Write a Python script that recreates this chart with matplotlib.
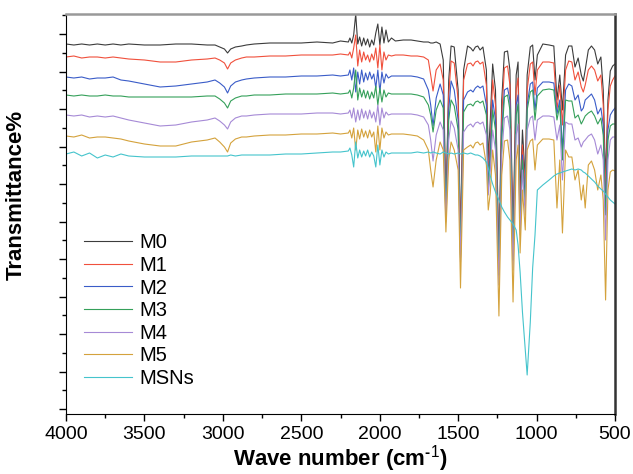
# FTIR spectra of M0-M5 and MSNs

import numpy as np
import matplotlib.pyplot as plt
from matplotlib.ticker import MultipleLocator

plt.rcParams['font.family'] = ['Liberation Sans', 'DejaVu Sans']
plt.rcParams['mathtext.fontset'] = 'custom'
plt.rcParams['mathtext.rm'] = 'Liberation Sans'
plt.rcParams['mathtext.bf'] = 'Liberation Sans:bold'

# wave numbers (cm-1) where the spectra were read
wn_high = [4000, 3950, 3900, 3850, 3800, 3750, 3700, 3650, 3600, 3500,
           3400, 3300, 3200, 3100, 3050, 3020, 2990, 2970, 2950, 2920,
           2880, 2850, 2800, 2700, 2600, 2500, 2400, 2300, 2250, 2200]
wn_noise = [2190, 2178, 2166, 2153, 2140, 2128, 2115, 2102, 2090, 2077, 2064,
            2051, 2038, 2025, 2012, 1999, 1986, 1973, 1960, 1945, 1925, 1900]
wn_mid = [1850, 1800, 1760, 1720, 1690]
wn_finger = [1675, 1660, 1640, 1615, 1595, 1578, 1560, 1545, 1525, 1500,
             1485, 1465, 1440, 1420, 1405, 1390, 1375, 1360, 1342, 1320,
             1308, 1295, 1280, 1262, 1240, 1222, 1205, 1185, 1170, 1150,
             1130, 1118, 1105, 1090, 1072, 1060, 1040, 1025, 1010, 995,
             960, 920, 890, 870, 852, 835, 815, 795, 775, 755,
             735, 715, 702, 690, 670, 650, 630, 610, 590, 575,
             560, 545, 530, 515, 500]
wavenumber = wn_high + wn_noise + wn_mid + wn_finger

# transmittance (arbitrary units, curves stacked)
t_m0 = [370, 369, 370, 369, 370, 369, 370, 369, 370, 369, 369, 370, 370, 369, 369,
        367, 365, 361, 365, 367, 368, 369, 370, 371, 371, 371, 372, 371, 373, 372,
        376, 371, 379, 400, 370, 377, 368, 376, 369, 375, 367, 374, 369, 381, 390,
        369, 387, 371, 384, 372, 376, 373,
        374, 374, 373, 372, 372,
        371, 371, 372, 370, 354, 209, 334, 368, 367, 324, 174, 344, 368, 366, 363,
        367, 368, 364, 367, 344, 254, 294, 350, 324, 159, 314, 362, 363, 344, 179,
        339, 352, 214, 284, 234, 339, 367, 369, 334, 359, 370, 369, 368, 314, 339,
        304, 359, 368, 368, 347, 356, 339, 333, 344, 364, 368, 364, 350, 357, 324,
        234, 314, 343, 348, 350]
t_m1 = [357, 358, 356, 357, 357, 356, 357, 356, 355, 354, 352, 352, 354, 355, 356,
        354, 351, 345, 351, 354, 356, 357, 357, 358, 358, 359, 359, 359, 360, 359,
        362, 356, 366, 379, 348, 364, 352, 362, 354, 359, 352, 360, 354, 366, 346,
        369, 344, 362, 354, 359, 358, 359,
        359, 358, 358, 357, 354,
        339, 323, 344, 350, 334, 204, 319, 353, 351, 314, 164, 334, 350, 351, 348,
        352, 353, 350, 352, 329, 239, 274, 334, 309, 149, 299, 346, 348, 329, 169,
        324, 336, 199, 269, 224, 324, 350, 352, 319, 344, 352, 352, 351, 304, 329,
        289, 344, 353, 352, 334, 342, 327, 322, 329, 344, 348, 344, 333, 339, 309,
        219, 304, 328, 334, 338]
t_m2 = [337, 336, 337, 335, 336, 336, 337, 334, 333, 330, 327, 328, 330, 332, 334,
        331, 327, 321, 328, 332, 334, 335, 336, 337, 337, 338, 338, 339, 338, 339,
        344, 334, 346, 322, 342, 330, 344, 332, 341, 334, 342, 335, 340, 326, 344,
        322, 342, 331, 340, 336, 338, 338,
        338, 338, 337, 335, 324,
        309, 288, 316, 330, 319, 199, 304, 333, 324, 294, 159, 314, 322, 324, 322,
        326, 328, 326, 328, 309, 229, 264, 314, 294, 144, 284, 324, 326, 314, 159,
        309, 319, 189, 259, 214, 309, 330, 332, 304, 326, 332, 332, 331, 300, 314,
        264, 324, 330, 328, 314, 319, 303, 306, 314, 317, 320, 314, 300, 306, 289,
        204, 284, 299, 303, 306]
t_m3 = [319, 318, 319, 318, 318, 319, 318, 318, 317, 317, 317, 317, 317, 318, 318,
        315, 311, 306, 313, 316, 318, 318, 319, 319, 320, 320, 320, 321, 320, 321,
        324, 316, 326, 344, 314, 326, 317, 324, 316, 323, 315, 322, 316, 328, 309,
        326, 312, 324, 317, 321, 320, 320,
        320, 320, 319, 317, 309,
        299, 282, 304, 314, 306, 196, 294, 314, 308, 284, 156, 302, 309, 310, 308,
        312, 313, 311, 313, 299, 224, 254, 304, 284, 139, 274, 317, 319, 304, 154,
        299, 310, 184, 254, 209, 304, 322, 324, 294, 318, 324, 325, 324, 294, 309,
        254, 314, 313, 313, 296, 299, 290, 294, 298, 301, 303, 298, 290, 296, 279,
        199, 274, 288, 290, 290]
t_m4 = [299, 298, 299, 297, 298, 297, 298, 296, 294, 291, 288, 289, 292, 294, 296,
        293, 289, 285, 292, 296, 298, 298, 299, 300, 300, 300, 301, 301, 300, 301,
        304, 296, 306, 292, 304, 294, 305, 296, 303, 295, 304, 296, 302, 292, 309,
        289, 306, 296, 302, 299, 300, 300,
        300, 300, 299, 297, 289,
        274, 253, 279, 292, 284, 192, 274, 293, 286, 264, 152, 282, 288, 290, 287,
        291, 292, 290, 292, 279, 219, 244, 284, 264, 129, 259, 296, 298, 284, 144,
        279, 290, 179, 244, 199, 284, 296, 298, 274, 294, 298, 298, 297, 274, 289,
        234, 292, 290, 290, 274, 276, 267, 272, 274, 278, 280, 274, 260, 269, 254,
        174, 254, 274, 277, 277]
t_m5 = [278, 277, 279, 276, 277, 277, 276, 275, 273, 270, 268, 268, 272, 274, 276,
        272, 267, 262, 271, 275, 277, 277, 278, 279, 279, 280, 280, 281, 280, 281,
        284, 276, 286, 264, 284, 275, 285, 277, 283, 276, 284, 277, 282, 262, 288,
        264, 286, 276, 282, 279, 280, 280,
        280, 279, 278, 274, 264,
        244, 227, 254, 272, 264, 182, 254, 272, 264, 244, 126, 264, 267, 269, 266,
        271, 272, 269, 271, 249, 204, 221, 264, 239, 98, 239, 273, 274, 254, 112,
        254, 269, 161, 224, 184, 264, 273, 275, 244, 269, 275, 275, 274, 206, 254,
        181, 264, 257, 257, 234, 244, 214, 229, 206, 249, 253, 244, 224, 239, 214,
        114, 224, 242, 244, 243]
t_msns = [260, 262, 258, 261, 256, 259, 257, 260, 258, 257, 257, 257, 258, 258, 258,
          258, 258, 258, 259, 258, 259, 259, 259, 259, 260, 260, 261, 262, 262, 263,
          266, 259, 247, 272, 256, 264, 257, 263, 258, 264, 257, 262, 258, 247, 269,
          249, 264, 257, 262, 260, 261, 261,
          261, 261, 262, 261, 262,
          261, 262, 261, 260, 262, 261, 260, 261, 260, 261, 260, 261, 260, 261, 260,
          259, 259, 258, 256, 252, 246, 238, 230, 222, 214, 207, 202, 197, 194, 190,
          184, 169, 142, 102, 64, 39, 92, 146, 179, 224, 229, 234, 238, 240, 241,
          242, 243, 244, 245, 244, 245, 244, 242, 241, 238, 235, 232, 228, 225, 223,
          220, 217, 214, 212, 210]

labels = ['M0', 'M1', 'M2', 'M3', 'M4', 'M5', 'MSNs']
series = [t_m0, t_m1, t_m2, t_m3, t_m4, t_m5, t_msns]
colors = ['#3c3c3c', '#f0503c', '#3a5cc8', '#35a05a', '#a68ad6', '#d4a23c', '#45c4cc']

for s in series:
    assert len(s) == len(wavenumber), len(s)

fig = plt.figure(figsize=(6.33, 4.74), dpi=100)
ax = fig.add_axes([66/633, 60/474, 549/633, 400/474])

for name, vals, col in zip(labels, series, colors):
    ax.plot(wavenumber, vals, color=col, lw=0.8, label=name)

ax.set_xlim(4000, 500)
ax.set_ylim(0, 400)
ax.xaxis.set_major_locator(MultipleLocator(500))
ax.xaxis.set_minor_locator(MultipleLocator(250))
ax.set_yticks(np.arange(5, 400, 37.5))
ax.set_yticks(np.arange(23.75, 400, 37.5), minor=True)
ax.tick_params(which='both', direction='out', width=1, labelleft=False, labelsize=14)
ax.tick_params(which='major', length=5)
ax.tick_params(which='minor', length=3)

ax.spines['top'].set_color('#999999')
ax.spines['top'].set_linewidth(1.8)
ax.spines['right'].set_color('#333333')
ax.spines['right'].set_linewidth(1.8)

ax.set_xlabel('Wave number (cm$^{\\mathbf{\u2010}1}$)', fontsize=16, fontweight='bold', labelpad=0)
ax.set_ylabel('Transmittance%', fontsize=16, fontweight='bold')
ax.yaxis.set_label_coords(-0.071, 0.5475)

ax.legend(loc='lower left', bbox_to_anchor=(0.033, 0.065), frameon=False, fontsize=14.5,
          handlelength=2.4, handletextpad=0.35, labelspacing=0.18, borderpad=0, borderaxespad=0)

fig.savefig('out.png', dpi=100)
